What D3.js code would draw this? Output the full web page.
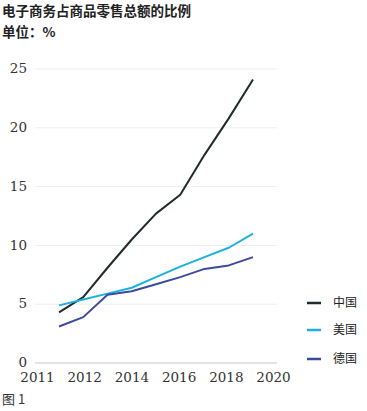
<!DOCTYPE html>
<html>
<head>
<meta charset="utf-8">
<script src="https://cdn.jsdelivr.net/npm/d3@7"></script>
<style>
  body { margin: 0; background: #fff; }
  svg { display: block; }
  .tick text { font-family: "DejaVu Serif", serif !important; }
</style>
</head>
<body>
<div id="chart"></div>
<script>
const years = [2011, 2012, 2013, 2014, 2015, 2016, 2017, 2018, 2019];
const china = [4.3, 5.6, 8.1, 10.5, 12.7, 14.3, 17.7, 20.8, 24.1];
const usa = [4.9, 5.4, 5.9, 6.4, 7.3, 8.2, 9.0, 9.8, 11.0];
const germany = [3.1, 3.9, 5.8, 6.1, 6.7, 7.3, 8.0, 8.3, 9.0];
const seriesNames = ["中国", "美国", "德国"];
const seriesColors = ["#1f2b2c", "#19b2df", "#3b4a9d"];
const xTickLabels = ["2011", "2012", "2014", "2016", "2018", "2020"];
const yTicks = [0, 5, 10, 15, 20, 25];

const W = 367, H = 411;
const svg = d3.select("#chart").append("svg")
  .attr("width", W)
  .attr("height", H);

const x = d3.scaleLinear().domain([2011, 2019]).range([59, 253]);
const y = d3.scaleLinear().domain([0, 25]).range([363, 69]);
// tick labels in the source are spaced evenly, not by year
const xLab = d3.scalePoint().domain(xTickLabels).range([37, 273]);

const cjk = "'Noto Sans CJK SC', sans-serif";

// title
svg.append("text")
  .attr("x", 2).attr("y", 16)
  .style("font-family", cjk)
  .style("font-size", "13.5px")
  .style("font-weight", "bold")
  .style("fill", "#222")
  .text("电子商务占商品零售总额的比例");

svg.append("text")
  .attr("x", 2).attr("y", 37)
  .style("font-family", cjk)
  .style("font-size", "13.5px")
  .style("font-weight", "bold")
  .style("fill", "#222")
  .text("单位：%");

// grid
svg.selectAll("line.grid")
  .data(yTicks)
  .enter().append("line")
  .attr("class", "grid")
  .attr("x1", 35).attr("x2", 277)
  .attr("y1", d => y(d)).attr("y2", d => y(d))
  .style("stroke", d => d === 0 ? "#c8c8c8" : "#eeeeee")
  .style("stroke-width", d => d === 0 ? 1.2 : 1);

// y axis
const yAxis = d3.axisLeft(y).tickValues(yTicks).tickSize(0).tickPadding(0);
svg.append("g")
  .attr("transform", "translate(27,-1)")
  .call(yAxis)
  .call(g => g.select(".domain").remove())
  .selectAll("text")
  .attr("dy", "0.35em")
  .style("font-size", "13.5px")
  .style("fill", "#333");

// x axis labels
const xAxis = d3.axisBottom(xLab).tickSize(0).tickPadding(0);
svg.append("g")
  .attr("transform", "translate(0,372)")
  .call(xAxis)
  .call(g => g.select(".domain").remove())
  .selectAll("text")
  .attr("dy", "0.71em")
  .style("font-size", "13.5px")
  .style("fill", "#333");

// lines
const allSeries = [china, usa, germany];
const line = d3.line()
  .x((d, i) => x(years[i]))
  .y(d => y(d));

svg.selectAll("path.series")
  .data(allSeries)
  .enter().append("path")
  .attr("class", "series")
  .attr("d", d => line(d))
  .style("fill", "none")
  .style("stroke", (d, i) => seriesColors[i])
  .style("stroke-width", 2)
  .style("stroke-linejoin", "round");

// legend
const legendY = [303, 330, 359];
const legend = svg.selectAll("g.legend")
  .data(seriesNames)
  .enter().append("g")
  .attr("class", "legend")
  .attr("transform", (d, i) => `translate(307,${legendY[i]})`);

legend.append("line")
  .attr("x1", 0).attr("x2", 14)
  .attr("y1", 0).attr("y2", 0)
  .style("stroke", (d, i) => seriesColors[i])
  .style("stroke-width", 2.5);

legend.append("text")
  .attr("x", 26).attr("y", 0)
  .attr("dy", "0.35em")
  .style("font-family", cjk)
  .style("font-size", "12px")
  .style("fill", "#222")
  .text(d => d);

// figure label
svg.append("text")
  .attr("x", 2).attr("y", 404)
  .style("font-family", cjk)
  .style("font-size", "13px")
  .style("fill", "#333")
  .text("图 1");
</script>
</body>
</html>
